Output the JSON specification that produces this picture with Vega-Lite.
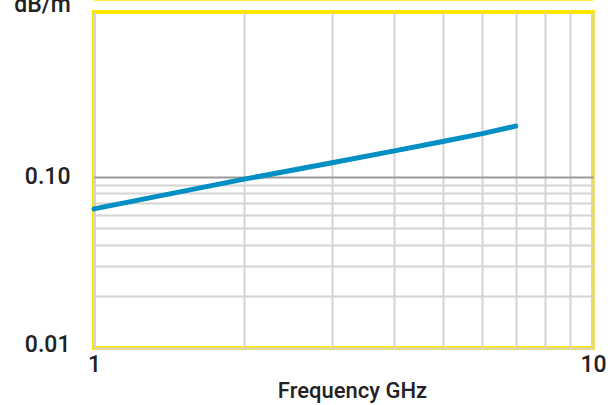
{
  "$schema": "https://vega.github.io/schema/vega-lite/v6.json",
  "width": 499,
  "height": 336,
  "autosize": "none",
  "padding": {"left": 94, "top": 12, "right": 21, "bottom": 57},
  "background": "white",
  "config": {
    "view": {"stroke": "#FFE600", "strokeWidth": 4},
    "font": "Roboto"
  },
  "datasets": {
    "loss": [
      {"freq": 1, "loss": 0.065},
      {"freq": 2, "loss": 0.097},
      {"freq": 3, "loss": 0.121},
      {"freq": 4, "loss": 0.142},
      {"freq": 5, "loss": 0.161},
      {"freq": 6, "loss": 0.179},
      {"freq": 7, "loss": 0.198}
    ],
    "edge": [{"freq": 1, "loss": 1.1}]
  },
  "layer": [
    {
      "data": {"name": "loss"},
      "mark": {"type": "line", "color": "#008FC5", "strokeWidth": 5, "strokeCap": "round"},
      "encoding": {
        "x": {
          "field": "freq", "type": "quantitative",
          "scale": {"type": "log", "domain": [1, 10], "nice": false},
          "axis": {
            "title": "Frequency GHz",
            "titleFont": "Roboto Medium, Roboto", "titleFontWeight": 500, "titleFontSize": 22, "titleColor": "#222",
            "titleX": 258, "titleY": 49, "titleAlign": "center", "titleBaseline": "alphabetic",
            "values": [1, 2, 3, 4, 5, 6, 7, 8, 9, 10],
            "labelExpr": "datum.value == 1 || datum.value == 10 ? datum.label : ''",
            "format": "d",
            "labelFont": "Roboto Medium, Roboto", "labelFontWeight": 500, "labelFontSize": 23, "labelColor": "#222",
            "labelFlush": false, "labelPadding": 5, "labelOverlap": false,
            "ticks": false, "tickSize": 0, "domain": false,
            "grid": true, "gridColor": "#d4d4d4", "gridWidth": 2
          }
        },
        "y": {
          "field": "loss", "type": "quantitative",
          "scale": {"type": "log", "domain": [0.01, 0.92], "nice": false},
          "axis": {
            "title": "dB/m",
            "titleFont": "Roboto Medium, Roboto", "titleFontWeight": 500, "titleFontSize": 23, "titleColor": "#222",
            "titleAngle": 0, "titleAlign": "center", "titleBaseline": "alphabetic",
            "titleX": -52, "titleY": -1,
            "values": [0.01, 0.02, 0.03, 0.04, 0.05, 0.06, 0.07, 0.08, 0.09, 0.1],
            "labelExpr": "datum.value == 0.01 || datum.value == 0.1 ? format(datum.value, '.2f') : ''",
            "labelFont": "Roboto Medium, Roboto", "labelFontWeight": 500, "labelFontSize": 23, "labelColor": "#222",
            "labelFlush": false, "labelPadding": 24, "labelOverlap": false,
            "labelOffset": {"condition": {"test": "datum.value == 0.01", "value": -4}, "value": 0},
            "ticks": false, "tickSize": 0, "domain": false,
            "grid": true, "gridWidth": 2,
            "gridColor": {"condition": {"test": "datum.value == 0.1", "value": "#9a9a9a"}, "value": "#d4d4d4"}
          }
        }
      }
    },
    {
      "data": {"name": "edge"},
      "mark": {"type": "rule", "color": "#FFE600", "strokeWidth": 4, "clip": false},
      "encoding": {
        "y": {"field": "loss", "type": "quantitative"}
      }
    }
  ]
}
